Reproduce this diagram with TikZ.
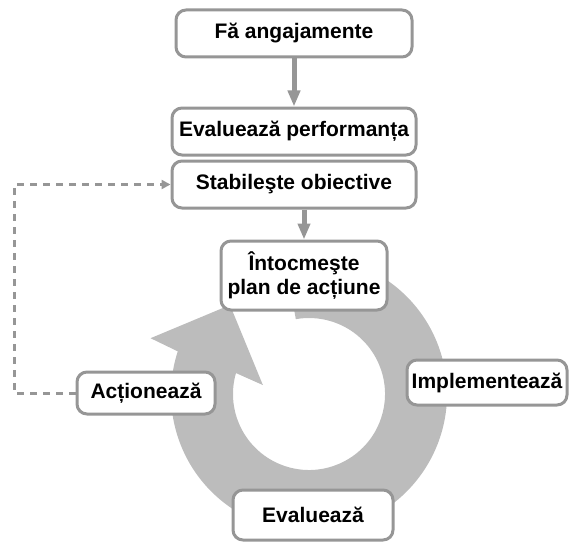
\documentclass[tikz,border=0pt]{standalone}
\usepackage{fontspec}
\setmainfont{Liberation Sans}
\usetikzlibrary{positioning, calc, arrows.meta}
\definecolor{gri}{RGB}{150,150,150}
\definecolor{inel}{RGB}{188,188,188}

\begin{document}
\begin{tikzpicture}[x=1pt,y=1pt,
  etapa/.style={rounded corners=10pt, draw=gri, line width=3pt, fill=white, align=center, inner sep=0pt,
    font=\fontsize{21}{24}\selectfont\bfseries},
  flux/.style={gri, line width=5pt, -{Triangle[width=12pt,length=16pt]}},
  pointille/.style={gri, line width=3pt, dash pattern=on 7pt off 6pt, -{Triangle[width=9pt,length=9pt]}}]
\useasboundingbox (0,0) rectangle (569,542);

% ciclul
\coordinate (C) at (309,148);
\fill[inel] ($(C)+(100:138)$) arc[start angle=100, end angle=-198, radius=138]
  -- ($(C)+(160.6:168)$) -- ($(C)+(131.6:119)$) -- ($(C)+(169:47)$)
  -- ($(C)+(164:76)$) arc[start angle=-196, end angle=100, radius=76] -- cycle;

\node[etapa, minimum width=236pt, minimum height=47pt] (F) at (294,508.5) {Fă angajamente};
\node[etapa, minimum width=244pt, minimum height=47pt, below=48pt of F] (EP) {Evaluează performanța};
\node[etapa, minimum width=244pt, minimum height=47pt, below=3pt of EP] (SO) {Stabileşte obiective};
\node[etapa, minimum width=166pt, minimum height=69pt, below=30pt of SO, xshift=10pt] (PA) {Întocmeşte\\plan de acțiune};
\node[etapa, minimum width=160pt, minimum height=45pt] (IM) at (487,159.5) {Implementează};
\node[etapa, minimum width=160pt, minimum height=50pt] (EV) at (313,27) {Evaluează};
\node[etapa, minimum width=138pt, minimum height=42pt] (AC) at (146,149) {Acționează};

\draw[flux] (F) -- (EP);
\draw[flux] (SO.south -| PA.north) -- (PA.north);

\coordinate (D) at (14,0);
\draw[pointille] (AC.west) -- (AC.west -| D) |- (SO.west);
\end{tikzpicture}
\end{document}
